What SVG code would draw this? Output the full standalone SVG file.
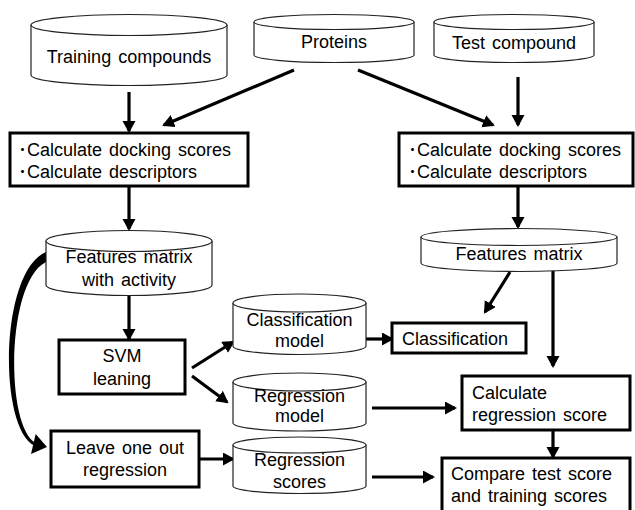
<svg xmlns="http://www.w3.org/2000/svg" width="635" height="510" viewBox="0 0 635 510">
<defs>
<style>
.cyl{fill:#fff;stroke:#222;stroke-width:1.2}
.box{fill:#fff;stroke:#000;stroke-width:3}
.t{font-family:"Liberation Sans","Noto Sans CJK JP",Arial,sans-serif;font-size:18px;fill:#000;word-spacing:2px}
.c{text-anchor:middle}
.ln{fill:none;stroke:#000;stroke-width:3.2;marker-end:url(#ah)}
</style>
<marker id="ah" markerUnits="userSpaceOnUse" markerWidth="14" markerHeight="14" refX="10" refY="6.5" orient="auto">
<path d="M0,0 L12,6.5 L0,13 Z" fill="#000"/>
</marker>
</defs>
<rect width="635" height="510" fill="#fff"/>

<g id="connectors">
<path class="ln" d="M129,92 L129,131"/>
<path class="ln" d="M294,70 L164,125"/>
<path class="ln" d="M358,70 L493,125"/>
<path class="ln" d="M518,77 L518,125"/>
<path class="ln" d="M129,187 L129,229"/>
<path class="ln" d="M518,187 L518,227"/>
<path class="ln" d="M129,296 L129,339"/>
<path class="ln" d="M192,368 L233,342"/>
<path class="ln" d="M192,376 L227,402"/>
<path class="ln" d="M199,459 L233,459"/>
<path class="ln" d="M366,339 L392,339"/>
<path class="ln" d="M510,272 L485,312"/>
<path class="ln" d="M553,270 L553,366"/>
<path class="ln" d="M372,408 L455,408"/>
<path class="ln" d="M553,431 L553,457"/>
<path class="ln" d="M372,477 L433,477"/>
<path d="M46,252 C -2,272 -2,438 38,447 L 38,444 C 5,434 5,282 46,262 Z" fill="#000"/>
<path d="M47,447 L35.7,434 L31,454 Z" fill="#000"/>
</g>

<g id="training-compounds">
<path class="cyl" d="M31,25 V75 A98,10.5 0 0 0 227,75 V25"/>
<ellipse class="cyl" cx="129" cy="25" rx="98" ry="10.5"/>
<text class="t c" x="129" y="63">Training compounds</text>
</g>

<g id="proteins">
<path class="cyl" d="M254,22 V55 A80,7.5 0 0 0 414,55 V22"/>
<ellipse class="cyl" cx="334" cy="22" rx="80" ry="7.5"/>
<text class="t c" x="334" y="48">Proteins</text>
</g>

<g id="test-compound">
<path class="cyl" d="M434,22 V55 A80,7.5 0 0 0 594,55 V22"/>
<ellipse class="cyl" cx="514" cy="22" rx="80" ry="7.5"/>
<text class="t c" x="514" y="49">Test compound</text>
</g>

<g id="calc-left">
<rect class="box" x="10" y="133" width="238" height="53"/>
<text class="t" x="18" y="156">･Calculate docking scores</text>
<text class="t" x="18" y="178">･Calculate descriptors</text>
</g>

<g id="calc-right">
<rect class="box" x="399" y="133" width="234" height="53"/>
<text class="t" x="408" y="156">･Calculate docking scores</text>
<text class="t" x="408" y="178">･Calculate descriptors</text>
</g>

<g id="features-matrix-activity">
<path class="cyl" d="M46,241 V285 A83,10.5 0 0 0 212,285 V241"/>
<ellipse class="cyl" cx="129" cy="241" rx="83" ry="10.5"/>
<text class="t c" x="129" y="263">Features matrix</text>
<text class="t c" x="129" y="286">with activity</text>
</g>

<g id="features-matrix">
<path class="cyl" d="M421,237 V263 A98,8.5 0 0 0 617,263 V237"/>
<ellipse class="cyl" cx="519" cy="237" rx="98" ry="8.5"/>
<text class="t c" x="519" y="260">Features matrix</text>
</g>

<g id="svm">
<rect class="box" x="59" y="340" width="126" height="54"/>
<text class="t c" x="122" y="362">SVM</text>
<text class="t c" x="122" y="385">leaning</text>
</g>

<g id="classification-model">
<path class="cyl" d="M233,303 V346 A66.5,8.5 0 0 0 366,346 V303"/>
<ellipse class="cyl" cx="299.5" cy="303" rx="66.5" ry="9"/>
<text class="t c" x="299.5" y="326">Classification</text>
<text class="t c" x="299.5" y="347">model</text>
</g>

<g id="regression-model">
<path class="cyl" d="M233,382 V423 A66.5,8 0 0 0 366,423 V382"/>
<ellipse class="cyl" cx="299.5" cy="382" rx="66.5" ry="9"/>
<text class="t c" x="299.5" y="402">Regression</text>
<text class="t c" x="299.5" y="422">model</text>
</g>

<g id="regression-scores">
<path class="cyl" d="M233,445 V486 A66.5,7.5 0 0 0 366,486 V445"/>
<ellipse class="cyl" cx="299.5" cy="445" rx="66.5" ry="8"/>
<text class="t c" x="299.5" y="466">Regression</text>
<text class="t c" x="299.5" y="488">scores</text>
</g>

<g id="leave-one-out">
<rect class="box" x="51" y="431" width="148" height="56"/>
<text class="t c" x="125" y="454">Leave one out</text>
<text class="t c" x="125" y="476">regression</text>
</g>

<g id="classification">
<rect class="box" x="392" y="323" width="134" height="30"/>
<text class="t" x="402" y="345">Classification</text>
</g>

<g id="calc-regression">
<rect class="box" x="462" y="376" width="168" height="54"/>
<text class="t" x="472" y="399">Calculate</text>
<text class="t" x="472" y="421">regression score</text>
</g>

<g id="compare">
<rect class="box" x="442" y="458" width="188" height="56"/>
<text class="t" x="451" y="480">Compare test score</text>
<text class="t" x="451" y="502">and training scores</text>
</g>
</svg>
